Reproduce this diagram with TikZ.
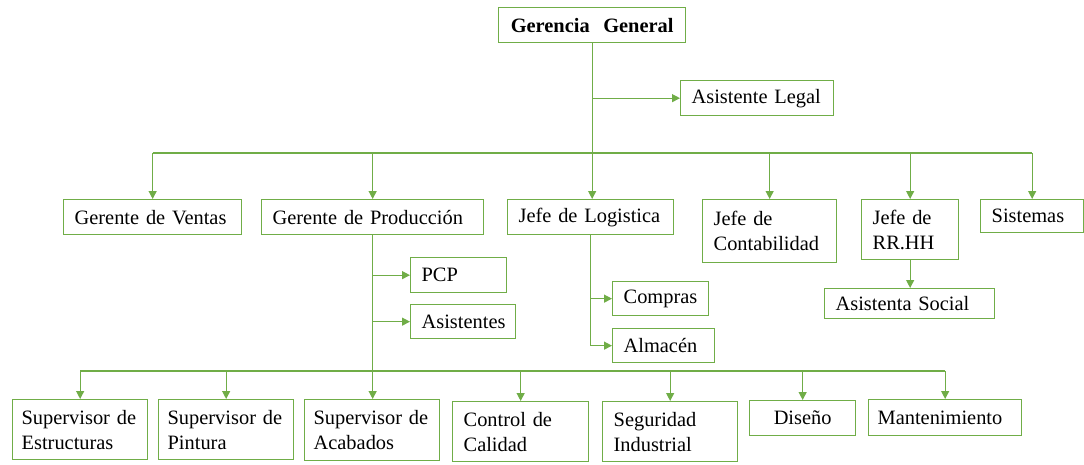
\documentclass[tikz,border=0pt]{standalone}
\usepackage{fontspec}
\setmainfont{Liberation Serif}
\usetikzlibrary{arrows.meta}
\definecolor{grn}{HTML}{70AD47}
\begin{document}
\begin{tikzpicture}[x=1pt,y=-1pt,
    box/.style={draw=grn, line width=1.3pt, anchor=north west, inner xsep=9pt, inner ysep=0pt, align=left, font=\fontsize{20.4}{25}\selectfont},
    arr/.style={draw=grn, line width=1.2pt, -{Triangle[length=8pt,width=8pt]}},
    lin/.style={draw=grn, line width=1.2pt}]
\useasboundingbox (0,0) rectangle (1084,464);

    \node[box, align=center, text width=169pt, minimum height=35pt, font=\fontsize{20.4}{25}\selectfont\bfseries] (gg) at (498,7) {Gerencia~~General};
    \node[box, text width=135pt, minimum height=35pt] (legal) at (680,80) {\hspace{2pt}Asistente Legal};

    \node[box, text width=160pt, minimum height=35pt] (ventas) at (63,199) {\hspace{2pt}Gerente de Ventas};
    \node[box, text width=204pt, minimum height=35pt] (prod) at (261,199) {\hspace{2pt}Gerente de Producción};
    \node[box, text width=148pt, minimum height=35pt] (logi) at (507,199) {\hspace{2pt}Jefe de Logistica};
    \node[box, text width=116pt, minimum height=63pt] (conta) at (702,199) {\hspace{2pt}Jefe de\\\hspace{2pt}Contabilidad};
    \node[box, text width=79pt, minimum height=60pt] (rrhh) at (861,199) {\hspace{2pt}Jefe de\\\hspace{2pt}RR.HH};
    \node[box, text width=85pt, minimum height=33pt] (sist) at (980,199) {\hspace{2pt}Sistemas};

    \node[box, text width=152pt, minimum height=30pt] (social) at (824,288) {\hspace{2pt}Asistenta Social};
    \node[box, text width=78pt, minimum height=35pt] (pcp) at (410,257) {\hspace{2pt}PCP};
    \node[box, text width=87pt, minimum height=34pt] (asis) at (410,304) {\hspace{2pt}Asistentes};
    \node[box, text width=78pt, minimum height=34pt] (compras) at (612,281) {\hspace{2pt}Compras};
    \node[box, text width=84pt, minimum height=34pt] (almacen) at (612,328) {\hspace{2pt}Almacén};

    \node[box, text width=117pt, minimum height=60pt] (estr) at (12,399) {Supervisor de\\Estructuras};
    \node[box, text width=117pt, minimum height=60pt] (pint) at (158,399) {Supervisor de\\Pintura};
    \node[box, text width=117pt, minimum height=61pt] (acab) at (304,399) {Supervisor de\\Acabados};
    \node[box, text width=118pt, minimum height=60pt] (calidad) at (452,401) {\hspace{2pt}Control de\\\hspace{2pt}Calidad};
    \node[box, text width=117pt, minimum height=60pt] (seg) at (602,401) {\hspace{2pt}Seguridad\\\hspace{2pt}Industrial};
    \node[box, align=center, text width=88pt, minimum height=35pt] (diseno) at (749,400) {Diseño};
    \node[box, text width=135pt, minimum height=36pt] (mant) at (868,399) {Mantenimiento};

    \coordinate (bus) at (592,153);
    \coordinate (lowbus) at (372,371);

    \draw[arr] (gg.south) -- (gg.south |- logi.north);
    \draw[arr] (gg.south |- legal.west) -- (legal.west);
    \draw[lin] (ventas.north |- bus) -- (sist.north |- bus);
    \foreach \n in {ventas,prod,conta,rrhh,sist}
        \draw[arr] (\n.north |- bus) -- (\n.north);
    \draw[arr] (rrhh.south) -- (rrhh.south |- social.north);

    \draw[arr] (prod.south) -- (prod.south |- acab.north);
    \draw[arr] (prod.south |- pcp.west) -- (pcp.west);
    \draw[arr] (prod.south |- asis.west) -- (asis.west);

    \draw[arr] (logi.south) -- (logi.south |- almacen.west) -- (almacen.west);
    \draw[arr] (logi.south |- compras.west) -- (compras.west);

    \draw[lin] (estr.north |- lowbus) -- (mant.north |- lowbus);
    \foreach \n in {estr,pint,calidad,seg,diseno,mant}
        \draw[arr] (\n.north |- lowbus) -- (\n.north);
\end{tikzpicture}
\end{document}
